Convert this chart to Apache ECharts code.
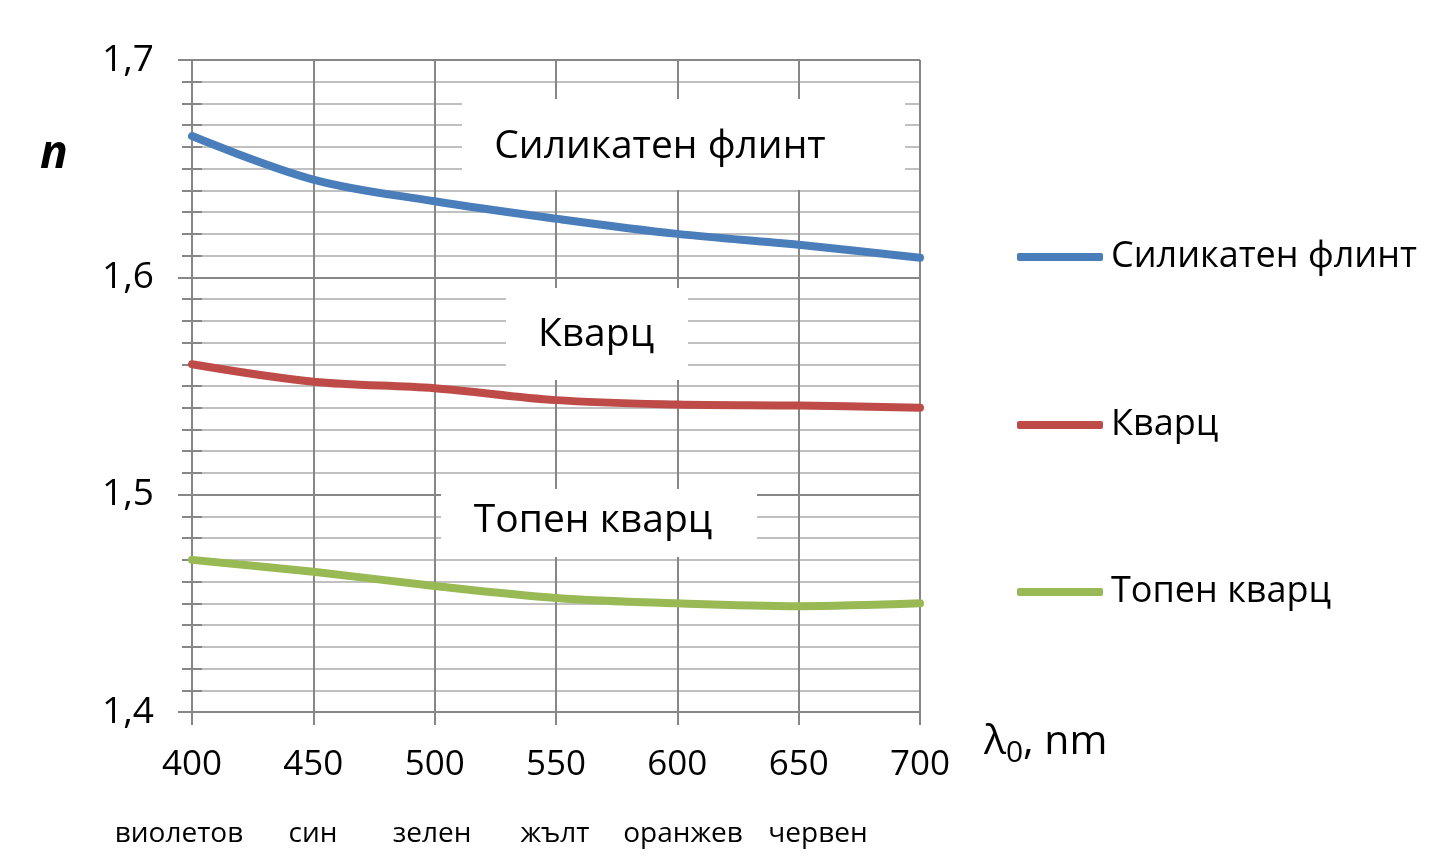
<!DOCTYPE html>
<html>
<head>
<meta charset="utf-8">
<script src="https://cdn.jsdelivr.net/npm/echarts@6/dist/echarts.min.js"></script>
<style>
  html, body { margin: 0; padding: 0; background: #fff; }
  #main { width: 1454px; height: 863px; }
</style>
</head>
<body>
<div id="main"></div>
<script>
// wavelength, nm
var waves = [400, 450, 500, 550, 600, 650, 700]
// refractive index n
var flint = [1.665, 1.645, 1.635, 1.627, 1.620, 1.615, 1.609]
var quartz = [1.560, 1.552, 1.549, 1.5435, 1.5415, 1.541, 1.540]
var fused = [1.470, 1.4645, 1.458, 1.4525, 1.450, 1.4487, 1.450]
var names = ['Силикатен флинт', 'Кварц', 'Топен кварц']
var colours = ['#4a7ebb', '#be4b48', '#98b954']
var colourNames = ['виолетов', 'син', 'зелен', 'жълт', 'оранжев', 'червен']
var colourNameX = [179, 313, 432, 555, 683, 818]

var font = '"Open Sans", "Noto Sans", sans-serif'
var gridGray = '#878787'
var minorGray = '#c0c0c0'

function pairs(ys){
  var out = []
  for (var i = 0; i < waves.length; i++) out.push([waves[i], ys[i]])
  return out
}

var myChart = echarts.init(document.getElementById('main'))

var legends = []
var legendTops = [237, 405, 572]
for (var i = 0; i < names.length; i++) {
  legends.push({
    data: [names[i]],
    left: 1017,
    top: legendTops[i],
    padding: 0,
    icon: 'roundRect',
    itemWidth: 86,
    itemHeight: 8,
    textStyle: { fontFamily: font, fontSize: 36, color: '#000', lineHeight: 40, padding: [0, 0, 0, 3] }
  })
}

var graphics = colourNames.map(function(t, k){
  return {
    type: 'text', x: colourNameX[k], y: 834,
    style: { text: t, font: '28px ' + font, fill: '#000', align: 'center', verticalAlign: 'middle' }
  }
})

// label boxes on the plot
var boxes = [
  { x: 462, y: 99, w: 443, h: 91, cx: 660, cy: 147, text: names[0] },
  { x: 506, y: 288, w: 182, h: 92, cx: 596, cy: 335, text: names[1] },
  { x: 441, y: 489, w: 316, h: 68, cx: 593, cy: 521, text: names[2] }
]
boxes.forEach(function(b){
  graphics.push({ type: 'rect', z: 5, shape: { x: b.x, y: b.y, width: b.w, height: b.h }, style: { fill: '#fff' } })
  graphics.push({
    type: 'text', z: 6, x: b.cx, y: b.cy,
    style: { text: b.text, font: '39px ' + font, fill: '#000', align: 'center', verticalAlign: 'middle' }
  })
})

graphics.push({
  type: 'text', x: 40, y: 155,
  style: { text: 'n', font: 'italic bold 46px ' + font, fill: '#000', verticalAlign: 'middle' }
})
graphics.push({
  type: 'text', x: 984, y: 742,
  style: {
    text: '{a|λ}{s|0}{a|, nm}',
    verticalAlign: 'middle',
    rich: {
      a: { fontFamily: font, fontSize: 41, color: '#000' },
      s: { fontFamily: font, fontSize: 30, color: '#000', verticalAlign: 'bottom', padding: [22, 0, 0, 0] }
    }
  }
})

var series = [flint, quartz, fused].map(function(d, k){
  return {
    name: names[k],
    type: 'line',
    data: pairs(d),
    smooth: 0.35,
    showSymbol: false,
    symbol: 'none',
    color: colours[k],
    lineStyle: { width: 8, color: colours[k], cap: 'round' },
    z: 3
  }
})

var option = {
  animation: false,
  textStyle: { fontFamily: font },
  grid: { left: 192, right: 534, top: 60, bottom: 151, containLabel: false },
  legend: legends,
  xAxis: {
    type: 'value',
    min: 400,
    max: 700,
    interval: 50,
    axisLine: { show: true, lineStyle: { color: gridGray, width: 2 } },
    axisTick: { show: true, length: 13, lineStyle: { color: gridGray, width: 2 } },
    splitLine: { show: true, lineStyle: { color: gridGray, width: 2 } },
    axisLabel: { fontFamily: font, fontSize: 35, color: '#000', margin: 36 }
  },
  yAxis: [{
    type: 'value',
    min: 1.4,
    max: 1.7,
    interval: 0.1,
    axisLine: { show: true, lineStyle: { color: gridGray, width: 2 } },
    axisTick: { show: true, length: 14, lineStyle: { color: gridGray, width: 2 } },
    minorTick: { show: true, splitNumber: 10, length: 10, lineStyle: { color: gridGray, width: 2 } },
    splitLine: { show: true, lineStyle: { color: gridGray, width: 2 } },
    minorSplitLine: { show: true, lineStyle: { color: minorGray, width: 2 } },
    axisLabel: {
      fontFamily: font, fontSize: 37, color: '#000', margin: 38,
      formatter: function(v){ return v.toFixed(1).replace('.', ',') }
    }
  }, {
    type: 'value',
    position: 'left',
    min: 1.4,
    max: 1.7,
    interval: 0.1,
    axisLine: { show: false },
    axisLabel: { show: false },
    splitLine: { show: false },
    axisTick: { show: true, inside: true, length: 10, lineStyle: { color: gridGray, width: 2 } },
    minorTick: { show: true, splitNumber: 10, length: 10, lineStyle: { color: gridGray, width: 2 } }
  }],
  graphic: graphics,
  series: series
}
myChart.setOption(option)
</script>
</body>
</html>
